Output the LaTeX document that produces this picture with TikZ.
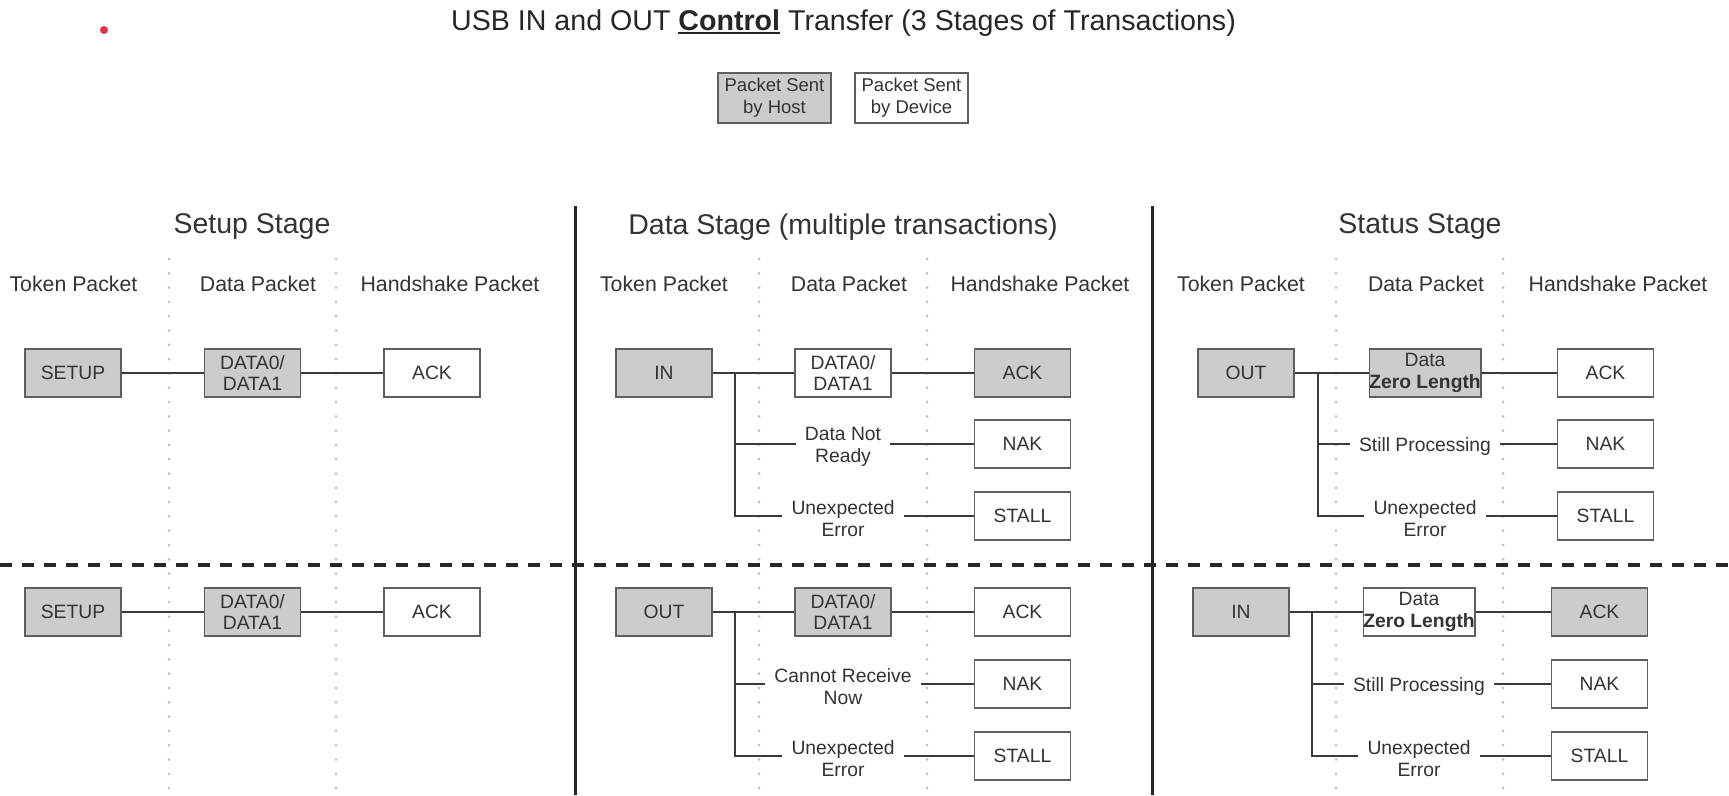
\documentclass[tikz,border=0pt]{standalone}
\usepackage{fontspec}
\setmainfont{Liberation Sans}
\newcommand\myul[1]{\setbox0\hbox{#1}\rlap{\raisebox{-4pt}{\rule{\wd0}{2.4pt}}}\box0\relax}
\definecolor{hostfill}{HTML}{CCCCCC}
\definecolor{boxline}{HTML}{5F5F5F}
\definecolor{connc}{HTML}{3A3A3A}
\definecolor{txt}{HTML}{333333}
\definecolor{dotc}{HTML}{C0C0C0}
\definecolor{reddot}{HTML}{E0314B}
\begin{document}
\begin{tikzpicture}[x=1pt,y=-1pt,
  pkt/.style={draw=boxline, line width=1.5pt, minimum width=96pt, minimum height=48pt, inner sep=0pt, align=center, text=txt, font=\fontsize{19.3}{21.5}\selectfont},
  host/.style={pkt, fill=hostfill},
  dev/.style={pkt, fill=white},
  lbl/.style={align=center, text=txt, inner xsep=9pt, inner ysep=0pt, font=\fontsize{19.3}{22}\selectfont},
  conn/.style={draw=connc, line width=2pt},
  colhead/.style={text=txt, inner sep=0pt, font=\fontsize{21.3}{24}\selectfont},
  stagehead/.style={text=txt, inner sep=0pt, font=\fontsize{28.5}{32}\selectfont},
  legbox/.style={draw=boxline, line width=1.5pt, minimum width=113pt, minimum height=50pt, inner sep=0pt, align=center, text=txt, font=\fontsize{18.5}{22}\selectfont},
  sepline/.style={line width=3pt, draw=black!85},
  divider/.style={line width=3.5pt, draw=black!85, dash pattern=on 12pt off 10pt},
  dotline/.style={line width=3pt, line cap=round, draw=dotc, dash pattern=on 0pt off 14.3pt}
]
\useasboundingbox[fill=white] (0,0) rectangle (1729,795);

% red dot
\fill[reddot] (104,30) circle (4pt);

% title
\node[text=black!85, inner sep=0pt, font=\fontsize{28.6}{32}\selectfont] (title) at (843.5,23)
  {USB IN and OUT \myul{\textbf{Control}} Transfer (3 Stages of Transactions)};

% legend
\node[legbox, fill=hostfill] (leghost) at (774.5,98) {Packet Sent\\by Host};
\node[legbox, fill=white] (legdev) at (911.5,98) {Packet Sent\\by Device};

% dotted column separators
\foreach \x/\n in {169/a,336/b,759/c,927/d,1336/e,1503/f}{
  \coordinate (dt\n) at (\x,259);
  \coordinate (db\n) at (\x,795);
  \draw[dotline] (dt\n) -- (db\n);
}

% stage separators
\coordinate (sepAt) at (575,206); \coordinate (sepAb) at (575,795);
\coordinate (sepBt) at (1152,206); \coordinate (sepBb) at (1152,795);
\draw[sepline] (sepAt) -- (sepAb);
\draw[sepline] (sepBt) -- (sepBb);
\coordinate (divl) at (0,565); \coordinate (divr) at (1729,565);
\draw[divider] (divl) -- (divr);

% stage headings
\node[stagehead] (h1) at (252,227) {Setup Stage};
\node[stagehead] (h2) at (843,227) {Data Stage (multiple transactions)};
\node[stagehead] (h3) at (1420,227) {Status Stage};

% column headings
\node[colhead] (c1a) at (73.5,284) {Token Packet};
\node[colhead] (c1b) at (258,284) {Data Packet};
\node[colhead] (c1c) at (450,284) {Handshake Packet};
\node[colhead] (c2a) at (664,284) {Token Packet};
\node[colhead] (c2b) at (849,284) {Data Packet};
\node[colhead] (c2c) at (1040,284) {Handshake Packet};
\node[colhead] (c3a) at (1241,284) {Token Packet};
\node[colhead] (c3b) at (1426,284) {Data Packet};
\node[colhead] (c3c) at (1618,284) {Handshake Packet};

% ---------- Setup stage ----------
\node[host] (s1tok) at (73,373) {SETUP};
\node[host] (s1dat) at (252.5,373) {DATA0/\\DATA1};
\node[dev]  (s1ack) at (432,373) {ACK};
\draw[conn] (s1tok) -- (s1dat);
\draw[conn] (s1dat) -- (s1ack);

\node[host] (s2tok) at (73,612) {SETUP};
\node[host] (s2dat) at (252.5,612) {DATA0/\\DATA1};
\node[dev]  (s2ack) at (432,612) {ACK};
\draw[conn] (s2tok) -- (s2dat);
\draw[conn] (s2dat) -- (s2ack);

% ---------- Data stage, IN ----------
\node[host] (d1tok) at (664,373) {IN};
\node[dev]  (d1dat) at (843,373) {DATA0/\\DATA1};
\node[host] (d1ack) at (1022.5,373) {ACK};
\node[dev]  (d1nak) at (1022.5,444) {NAK};
\node[dev]  (d1stl) at (1022.5,516) {STALL};
\node[lbl]  (d1l1) at (843,447) {Data Not\\Ready};
\node[lbl]  (d1l2) at (843,519) {Unexpected\\Error};
\coordinate (d1br) at (735,373);
\draw[conn] (d1tok) -- (d1dat);
\draw[conn] (d1dat) -- (d1ack);
\draw[conn] (d1br) |- (d1l2.west |- d1stl.west);
\draw[conn] (d1br) |- (d1l1.west |- d1nak.west);
\draw[conn] (d1l1.east |- d1nak.west) -- (d1nak.west);
\draw[conn] (d1l2.east |- d1stl.west) -- (d1stl.west);

% ---------- Data stage, OUT ----------
\node[host] (d2tok) at (664,612) {OUT};
\node[host] (d2dat) at (843,612) {DATA0/\\DATA1};
\node[dev]  (d2ack) at (1022.5,612) {ACK};
\node[dev]  (d2nak) at (1022.5,684) {NAK};
\node[dev]  (d2stl) at (1022.5,756) {STALL};
\node[lbl]  (d2l1) at (843,687) {Cannot Receive\\Now};
\node[lbl]  (d2l2) at (843,759) {Unexpected\\Error};
\coordinate (d2br) at (735,612);
\draw[conn] (d2tok) -- (d2dat);
\draw[conn] (d2dat) -- (d2ack);
\draw[conn] (d2br) |- (d2l2.west |- d2stl.west);
\draw[conn] (d2br) |- (d2l1.west |- d2nak.west);
\draw[conn] (d2l1.east |- d2nak.west) -- (d2nak.west);
\draw[conn] (d2l2.east |- d2stl.west) -- (d2stl.west);

% ---------- Status stage, OUT ----------
\node[host] (t1tok) at (1246,373) {OUT};
\node[host, minimum width=108pt] (t1dat) at (1425,373) {Data\\\textbf{Zero Length}};
\node[dev]  (t1ack) at (1605.5,373) {ACK};
\node[dev]  (t1nak) at (1605.5,444) {NAK};
\node[dev]  (t1stl) at (1605.5,516) {STALL};
\node[lbl]  (t1l1) at (1425,447) {Still Processing};
\node[lbl]  (t1l2) at (1425,519) {Unexpected\\Error};
\coordinate (t1br) at (1318,373);
\draw[conn] (t1tok) -- (t1dat);
\draw[conn] (t1dat) -- (t1ack);
\draw[conn] (t1br) |- (t1l2.west |- t1stl.west);
\draw[conn] (t1br) |- (t1l1.west |- t1nak.west);
\draw[conn] (t1l1.east |- t1nak.west) -- (t1nak.west);
\draw[conn] (t1l2.east |- t1stl.west) -- (t1stl.west);

% ---------- Status stage, IN ----------
\node[host] (t2tok) at (1241,612) {IN};
\node[dev, minimum width=108pt] (t2dat) at (1419,612) {Data\\\textbf{Zero Length}};
\node[host] (t2ack) at (1599.5,612) {ACK};
\node[dev]  (t2nak) at (1599.5,684) {NAK};
\node[dev]  (t2stl) at (1599.5,756) {STALL};
\node[lbl]  (t2l1) at (1419,687) {Still Processing};
\node[lbl]  (t2l2) at (1419,759) {Unexpected\\Error};
\coordinate (t2br) at (1312,612);
\draw[conn] (t2tok) -- (t2dat);
\draw[conn] (t2dat) -- (t2ack);
\draw[conn] (t2br) |- (t2l2.west |- t2stl.west);
\draw[conn] (t2br) |- (t2l1.west |- t2nak.west);
\draw[conn] (t2l1.east |- t2nak.west) -- (t2nak.west);
\draw[conn] (t2l2.east |- t2stl.west) -- (t2stl.west);
\end{tikzpicture}
\end{document}
